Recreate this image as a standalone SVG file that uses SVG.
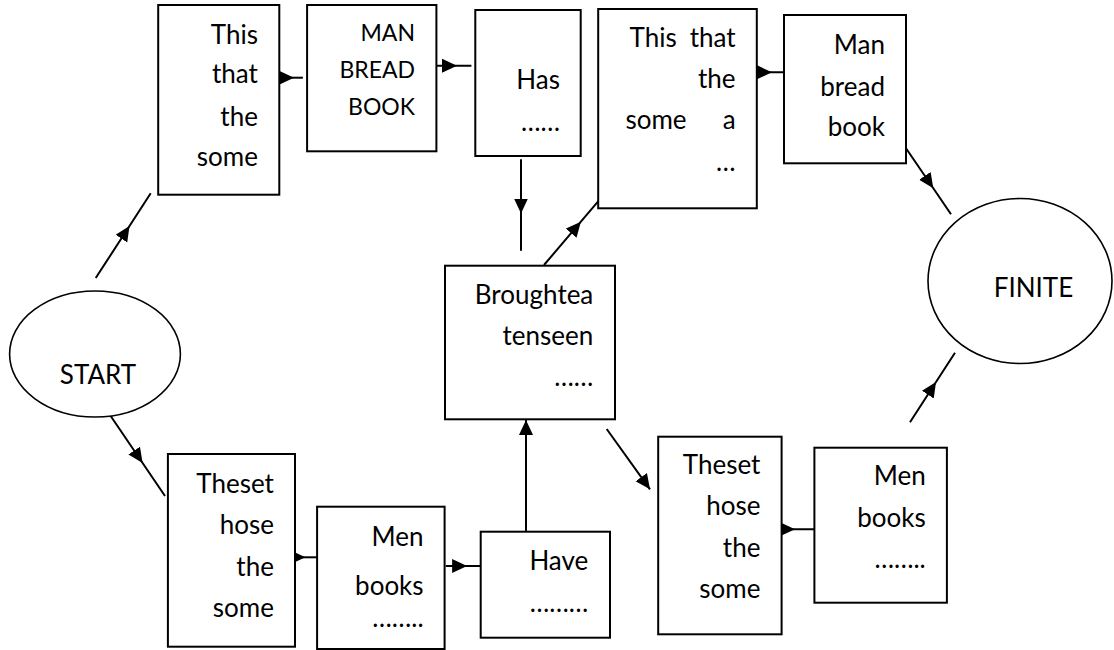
<svg xmlns="http://www.w3.org/2000/svg" width="1114" height="650" viewBox="0 0 1114 650">
  <style>
    .box { fill: #fff; stroke: #000; stroke-width: 2; }
    .oval { fill: #fff; stroke: #000; stroke-width: 1.6; }
    .lbl { font-family: Lato, "Liberation Sans", sans-serif; font-size: 26px; fill: #000; }
    .sm { font-size: 23px; }
    .r { text-anchor: end; }
    .wire { fill: none; stroke: #000; stroke-width: 2; }
    .mid { marker-mid: url(#tri); }
    .end { marker-end: url(#tri); }
  </style>
  <defs>
    <marker id="tri" markerUnits="userSpaceOnUse" markerWidth="16" markerHeight="15" refX="15" refY="7" orient="auto">
      <path d="M0,0 L15,7 L0,14 Z" fill="#000"/>
    </marker>
  </defs>

  <rect width="1114" height="650" fill="#fff"/>

  <!-- connectors -->
  <g id="connectors">
    <path class="wire mid" d="M95.7,278 L129.5,226 L150.7,193.3"/>
    <path class="wire mid" d="M280.4,77.7 L294,77.7 L302.9,77.7"/>
    <path class="wire mid" d="M435,65.7 L457,65.7 L471.4,65.7"/>
    <path class="wire mid" d="M521,159.3 L521,213.5 L521,250.7"/>
    <path class="wire mid" d="M544,265 L580.9,221.7 L607.3,190.7"/>
    <path class="wire mid" d="M750.8,72.3 L772,72.3 L787.2,72.3"/>
    <path class="wire mid" d="M906,148.3 L933.3,188.3 L951,214.3"/>
    <path class="wire mid" d="M110,415 L142.6,463 L165,496"/>
    <path class="wire mid" d="M288.6,557.3 L305.4,557.3 L318.6,557.3"/>
    <path class="wire mid" d="M445.7,566 L467.1,566 L481.4,566"/>
    <path class="wire end" d="M526,534.3 L526,420"/>
    <path class="wire end" d="M606.7,429 L650,489.3"/>
    <path class="wire mid" d="M770.2,529.3 L795,529.3 L814.4,529.3"/>
    <path class="wire mid" d="M910,422.2 L936,382 L955,352.7"/>
  </g>

  <g id="start">
    <ellipse class="oval" cx="95" cy="354" rx="85.4" ry="63"/>
    <text class="lbl" x="98" y="384" text-anchor="middle">START</text>
  </g>

  <g id="finite">
    <ellipse class="oval" cx="1020" cy="281" rx="92" ry="82.5"/>
    <text class="lbl" x="1033.5" y="296.7" text-anchor="middle">FINITE</text>
  </g>

  <g id="n-this-that">
    <rect class="box" x="158.2" y="5" width="121.1" height="189.7"/>
    <text class="lbl r" x="257.9" y="44">This</text>
    <text class="lbl r" x="257.9" y="83.3">that</text>
    <text class="lbl r" x="257.9" y="126">the</text>
    <text class="lbl r" x="257.9" y="165.7">some</text>
  </g>

  <g id="n-man-bread-book">
    <rect class="box" x="307.1" y="5" width="129.3" height="146.3"/>
    <text class="lbl sm r" x="415" y="41.3">MAN</text>
    <text class="lbl sm r" x="415" y="78">BREAD</text>
    <text class="lbl sm r" x="415" y="115.3">BOOK</text>
  </g>

  <g id="n-has">
    <rect class="box" x="475.3" y="10" width="105.4" height="146"/>
    <text class="lbl r" x="560" y="89.3">Has</text>
    <text class="lbl r" x="560" y="131">……</text>
  </g>

  <g id="n-this-that-2">
    <rect class="box" x="598.2" y="9" width="158.6" height="199.3"/>
    <text class="lbl" x="629.6" y="46.7">This</text>
    <text class="lbl r" x="735.6" y="46.7">that</text>
    <text class="lbl r" x="735.6" y="88.3">the</text>
    <text class="lbl" x="625.4" y="129.3">some</text>
    <text class="lbl r" x="735.6" y="129.3">a</text>
    <text class="lbl r" x="735.6" y="171">…</text>
  </g>

  <g id="n-man-bread-book-2">
    <rect class="box" x="784" y="15" width="122" height="148.3"/>
    <text class="lbl r" x="885" y="54">Man</text>
    <text class="lbl r" x="885" y="95.7">bread</text>
    <text class="lbl r" x="885" y="136">book</text>
  </g>

  <g id="n-broughtea">
    <rect class="box" x="445" y="265.7" width="170" height="153.6"/>
    <text class="lbl r" x="593.3" y="304">Broughtea</text>
    <text class="lbl r" x="593.3" y="345">tenseen</text>
    <text class="lbl r" x="593.3" y="386">……</text>
  </g>

  <g id="n-theset">
    <rect class="box" x="167.9" y="454" width="127.1" height="192.7"/>
    <text class="lbl r" x="273.9" y="493.3">Theset</text>
    <text class="lbl r" x="273.9" y="534.3">hose</text>
    <text class="lbl r" x="273.9" y="576">the</text>
    <text class="lbl r" x="273.9" y="617.3">some</text>
  </g>

  <g id="n-men-books">
    <rect class="box" x="317.1" y="506.7" width="127.5" height="142.3"/>
    <text class="lbl r" x="423.6" y="545.7">Men</text>
    <text class="lbl r" x="423.6" y="595">books</text>
    <text class="lbl r" x="423.6" y="626.7">……..</text>
  </g>

  <g id="n-have">
    <rect class="box" x="480.7" y="531.7" width="129.3" height="106"/>
    <text class="lbl r" x="588.3" y="570">Have</text>
    <text class="lbl r" x="588.3" y="611.7">………</text>
  </g>

  <g id="n-theset-2">
    <rect class="box" x="658.2" y="436.7" width="123.4" height="197.6"/>
    <text class="lbl r" x="760.4" y="474.3">Theset</text>
    <text class="lbl r" x="760.4" y="515.3">hose</text>
    <text class="lbl r" x="760.4" y="556.7">the</text>
    <text class="lbl r" x="760.4" y="598.3">some</text>
  </g>

  <g id="n-men-books-2">
    <rect class="box" x="814.4" y="447.7" width="132.5" height="155"/>
    <text class="lbl r" x="925.7" y="485">Men</text>
    <text class="lbl r" x="925.7" y="526.7">books</text>
    <text class="lbl r" x="925.7" y="568.3">……..</text>
  </g>
</svg>
